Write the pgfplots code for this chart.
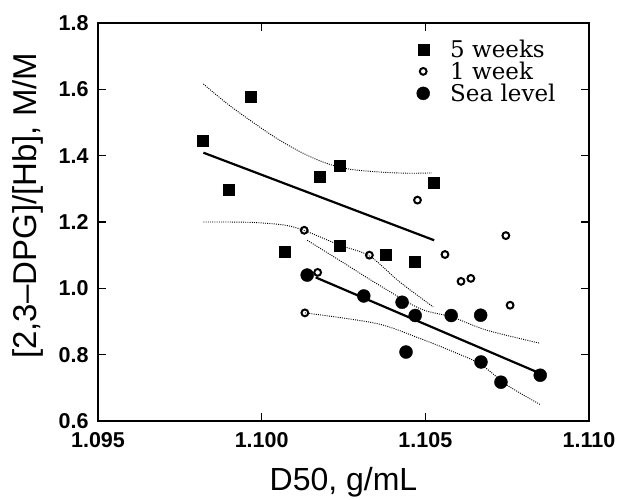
\documentclass[border=0pt]{standalone}
\usepackage{fontspec}
\setmainfont{Liberation Serif}
\setsansfont{Liberation Sans}
\newfontfamily\legendfont{DejaVu Serif}
\usepackage{pgfplots}
\pgfplotsset{compat=1.18}

% 5 weeks (squares)
\pgfplotstableread{
x y
1.09819 1.444
1.09899 1.296
1.09967 1.578
1.10070 1.109
1.10178 1.337
1.10237 1.369
1.10239 1.130
1.10379 1.100
1.10468 1.080
1.10527 1.319
}\fiveweeks
% 1 week (open circles)
\pgfplotstableread{
x y
1.10476 1.266
1.10130 1.175
1.10329 1.100
1.10560 1.102
1.10746 1.159
1.10171 1.048
1.10609 1.021
1.10639 1.030
1.10759 0.949
1.10132 0.926
}\oneweek
% sea level (filled circles)
\pgfplotstableread{
x y
1.10139 1.040
1.10312 0.977
1.10429 0.958
1.10469 0.918
1.10579 0.918
1.10669 0.919
1.10441 0.808
1.10670 0.778
1.10731 0.717
1.10851 0.738
}\sealevel

\begin{document}
\begin{tikzpicture}
\begin{axis}[
    name=ax,
    scale only axis,
    width=491pt, height=398pt,
    xmin=1.095, xmax=1.110,
    ymin=0.6, ymax=1.8,
    xtick={1.095,1.100,1.105,1.110},
    xticklabels={1.095,1.100,1.105,1.110},
    ytick={0.6,0.8,1.0,1.2,1.4,1.6,1.8},
    yticklabels={0.6,0.8,1.0,1.2,1.4,1.6,1.8},
    scaled ticks=false,
    tick align=inside,
    tick pos=both,
    major tick length=8pt,
    axis line style={line width=2.2pt},
    every tick/.style={black, line width=1.5pt},
    tick label style={font=\fontsize{21.5}{21.5}\sffamily\bfseries},
    yticklabel style={xshift=-6pt},
    xticklabel style={yshift=-8pt},
    xlabel={D50, g/mL},
    ylabel={[2,3--DPG]/[Hb], M/M},
    xlabel style={font=\fontsize{32}{32}\sffamily, at={(axis description cs:0.5,-0.153)}, anchor=center},
    ylabel style={font=\fontsize{33}{33}\sffamily, at={(axis description cs:-0.1426,0.541)}, anchor=center},
    legend style={at={(axis description cs:0.6477,0.958)}, anchor=north west,
        draw=none, fill=none, inner sep=0pt, row sep=3pt, column sep=20pt,
        font=\legendfont\fontsize{23}{23}\selectfont, nodes={inner sep=0pt}},
    legend cell align=left,
    legend image code/.code={\path[draw=none, fill=none] (-7pt,-7pt) rectangle (7pt,7pt);
        \draw[#1] plot coordinates {(0pt,0pt)};},
]
\addplot[only marks, mark=square*, mark size=5.5pt, black] table {\fiveweeks};
\addlegendentry{5 weeks}
\addplot[only marks, mark=o, mark size=3.4pt, black, line width=2pt] table {\oneweek};
\addlegendentry{1 week}
\addplot[only marks, mark=*, mark size=6.5pt, black] table {\sealevel};
\addlegendentry{Sea level}

% regression lines
\addplot[black, line width=2.2pt, forget plot] coordinates {(1.09822,1.409) (1.10527,1.145)};
\addplot[black, line width=2.2pt, forget plot] coordinates {(1.10165,1.033) (1.10840,0.748)};

% confidence bands
\addplot[black, line width=0.9pt, dash pattern=on 1pt off 1.2pt, smooth, forget plot] coordinates {
(1.09822,1.616) (1.09893,1.558) (1.09964,1.507) (1.10046,1.452) (1.10127,1.407)
(1.10198,1.377) (1.10270,1.359) (1.10371,1.350) (1.10453,1.347) (1.10519,1.348)};
\addplot[black, line width=0.9pt, dash pattern=on 1pt off 1.2pt, smooth, forget plot] coordinates {
(1.09822,1.200) (1.09964,1.199) (1.10067,1.191) (1.10129,1.175) (1.10239,1.130)
(1.10329,1.098) (1.10422,1.019) (1.10524,0.944)};
\addplot[black, line width=0.9pt, dash pattern=on 1pt off 1.2pt, smooth, forget plot] coordinates {
(1.10139,1.145) (1.10250,1.077) (1.10350,1.015) (1.10483,0.939) (1.10580,0.914)
(1.10687,0.874) (1.10848,0.835)};
\addplot[black, line width=0.9pt, dash pattern=on 1pt off 1.2pt, smooth, forget plot] coordinates {
(1.10132,0.926) (1.10351,0.894) (1.10483,0.849) (1.10575,0.813) (1.10667,0.772)
(1.10750,0.708) (1.10850,0.650)};
\end{axis}
\pgfresetboundingbox
\path[use as bounding box] ([shift={(-98pt,-78pt)}]ax.south west) rectangle ([shift={(30pt,23pt)}]ax.north east);
\end{tikzpicture}
\end{document}
